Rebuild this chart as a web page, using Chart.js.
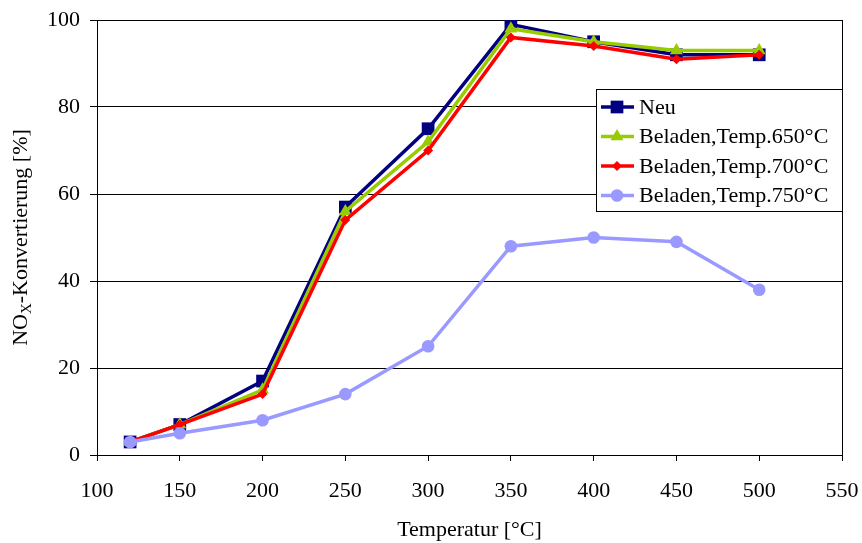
<!DOCTYPE html>
<html>
<head>
<meta charset="utf-8">
<script src="https://cdn.jsdelivr.net/npm/chart.js@4/dist/chart.umd.min.js"></script>
<style>
html,body{margin:0;padding:0;background:#fff;}
#wrap{width:862px;height:543px;position:relative;}
</style>
</head>
<body>
<div id="wrap"><canvas id="c" width="862" height="543"></canvas></div>
<script>
const temperatures = [120, 150, 200, 250, 300, 350, 400, 450, 500];
const neu      = [3, 7, 17, 57, 75, 99, 95, 92, 92];
const temp650  = [3, 7, 15, 56, 72, 98, 95, 93, 93];
const temp700  = [3, 7, 14, 54, 70, 96, 94, 91, 92];
const temp750  = [3, 5, 8, 14, 25, 48, 50, 49, 38];
const seriesNames = ['Neu', 'Beladen,Temp.650°C', 'Beladen,Temp.700°C', 'Beladen,Temp.750°C'];
const xTitle = 'Temperatur [°C]';
const yTitleParts = ['NO', 'X', '-Konvertierung [%]'];

const FONT = '"Liberation Serif", "Times New Roman", serif';
const FS = 22;
const pts = arr => temperatures.map((t, i) => ({x: t, y: arr[i]}));

const styles = [
  {color: '#000080', style: 'rect', radius: 9, order: 4},
  {color: '#99CC00', style: 'triangle', radius: 7.5, order: 3},
  {color: '#FF0000', style: 'rectRot', radius: 5, order: 2},
  {color: '#9999FF', style: 'circle', radius: 6.3, order: 1}
];
const values = [neu, temp650, temp700, temp750];

const datasets = values.map((v, i) => ({
  label: seriesNames[i],
  data: pts(v),
  borderColor: styles[i].color,
  backgroundColor: styles[i].color,
  borderWidth: 3.5,
  pointStyle: styles[i].style,
  pointRadius: styles[i].radius,
  pointBorderWidth: 0,
  pointBackgroundColor: styles[i].color,
  order: styles[i].order,
  tension: 0
}));

const decor = {
  id: 'decor',
  afterDraw(chart) {
    const ctx = chart.ctx;
    const a = chart.chartArea;
    ctx.save();
    // right border
    ctx.strokeStyle = '#000';
    ctx.lineWidth = 1;
    ctx.beginPath();
    ctx.moveTo(a.right + 0.5, a.top);
    ctx.lineTo(a.right + 0.5, a.bottom);
    ctx.stroke();

    // legend
    const lx = a.right - 246, ly = a.top + 69, lw = 246, lh = 122;
    ctx.fillStyle = '#fff';
    ctx.fillRect(lx, ly, lw, lh);
    ctx.strokeStyle = '#000';
    ctx.strokeRect(lx + 0.5, ly + 0.5, lw, lh);
    ctx.font = FS + 'px ' + FONT;
    ctx.textBaseline = 'middle';
    ctx.textAlign = 'left';
    for (let i = 0; i < 4; i++) {
      const y = ly + 18 + i * 29.5;
      ctx.strokeStyle = styles[i].color;
      ctx.lineWidth = 3.5;
      ctx.beginPath();
      ctx.moveTo(lx + 5, y);
      ctx.lineTo(lx + 38, y);
      ctx.stroke();
      ctx.fillStyle = styles[i].color;
      Chart.helpers.drawPoint(ctx, {pointStyle: styles[i].style, radius: styles[i].radius, borderWidth: 0}, lx + 21, y);
      ctx.fillStyle = '#000';
      ctx.fillText(seriesNames[i], lx + 43, y + 1);
    }

    // y title with subscript
    ctx.translate(20, (a.top + a.bottom) / 2);
    ctx.rotate(-Math.PI / 2);
    ctx.fillStyle = '#000';
    const big = FS + 'px ' + FONT, small = '15px ' + FONT;
    ctx.font = big; const w0 = ctx.measureText(yTitleParts[0]).width;
    ctx.font = small; const w1 = ctx.measureText(yTitleParts[1]).width;
    ctx.font = big; const w2 = ctx.measureText(yTitleParts[2]).width;
    let x = -(w0 + w1 + w2) / 2;
    ctx.textBaseline = 'alphabetic';
    ctx.font = big; ctx.fillText(yTitleParts[0], x, 7); x += w0;
    ctx.font = small; ctx.fillText(yTitleParts[1], x, 11); x += w1;
    ctx.font = big; ctx.fillText(yTitleParts[2], x, 7);
    ctx.restore();
  }
};

new Chart(document.getElementById('c'), {
  type: 'line',
  data: {datasets},
  options: {
    responsive: false,
    animation: false,
    devicePixelRatio: 1,
    layout: {padding: {top: 20, right: 20, left: 0, bottom: 0}},
    plugins: {legend: {display: false}, tooltip: {enabled: false}},
    scales: {
      x: {
        type: 'linear',
        min: 100, max: 550,
        ticks: {stepSize: 50, color: '#000', font: {family: FONT, size: FS}, padding: 17, maxRotation: 0},
        grid: {drawOnChartArea: false, color: '#000', tickLength: 6, tickColor: '#000'},
        border: {color: '#000', width: 1},
        title: {display: true, text: xTitle, color: '#000', font: {family: FONT, size: FS}, padding: {top: 2, bottom: 0}},
        afterFit(s) { s.height = 88; s.paddingLeft = 0; s.paddingRight = 0; }
      },
      y: {
        min: 0, max: 100,
        ticks: {stepSize: 20, color: '#000', font: {family: FONT, size: FS}, padding: 10},
        grid: {color: '#000', lineWidth: 1, tickLength: 7, tickColor: '#000'},
        border: {color: '#000', width: 1},
        afterFit(s) { s.width = 97; s.paddingTop = 0; s.paddingBottom = 0; }
      }
    }
  },
  plugins: [decor]
});
</script>
</body>
</html>
